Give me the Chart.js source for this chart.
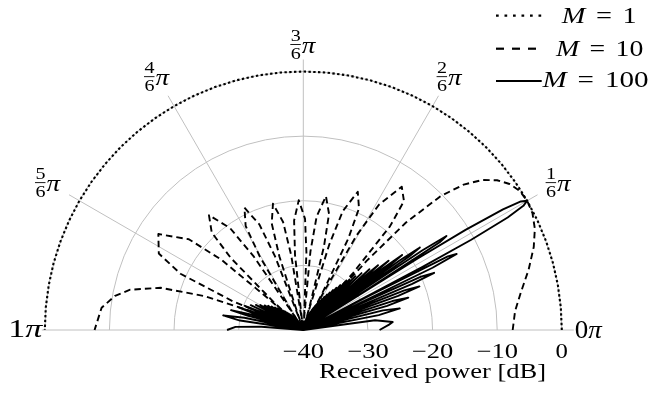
<!DOCTYPE html>
<html lang="en">
<head>
    <meta charset="UTF-8">
    <title>Received power vs. angle</title>
    <script src="https://cdn.jsdelivr.net/npm/chart.js"></script>
    <style>
        html, body { margin: 0; padding: 0; background: #ffffff; }
        #wrap { width: 654px; height: 393px; }
    </style>
</head>
<body>
<div id="wrap"><canvas id="chart" width="654" height="393"></canvas></div>
<script>
// angles in degrees (0 = right, 180 = left), power in dB
const thetaM1 = [0, 5, 10, 15, 20, 25, 30, 35, 40, 45, 50, 55, 60, 65, 70, 75, 80, 85, 90,
                 95, 100, 105, 110, 115, 120, 125, 130, 135, 140, 145, 150, 155, 160, 165, 170, 175, 180];
const powerM1 = [0, 0, 0, 0, 0, 0, 0, 0, 0, 0, 0, 0, 0, 0, 0, 0, 0, 0, 0,
                 0, 0, 0, 0, 0, 0, 0, 0, 0, 0, 0, 0, 0, 0, 0, 0, 0, 0];

const thetaM10 = [0, 5.1, 9.6, 15.0, 19.8, 23.6, 27.0, 30.0,
                  32.8, 35.3, 37.7, 40.0, 42.2, 44.3, 46.3, 47.5, 48.2,
                  48.9, 50.1, 52.0, 55.5, 58.9, 60.6, 61.7, 62.2,
                  62.7, 63.8, 65.4, 68.5, 71.6, 73.1, 74.1, 74.6,
                  75.0, 76.1, 77.5, 80.4, 83.3, 84.8, 85.8, 86.2,
                  86.7, 87.7, 89.1, 92.0, 94.8, 96.3, 97.2, 97.7,
                  98.2, 99.2, 100.6, 103.5, 106.5, 108.0, 109.0, 109.5,
                  110.0, 111.0, 112.6, 115.7, 119.0, 120.6, 121.7, 122.3,
                  122.8, 124.0, 125.7, 129.4, 133.2, 135.2, 136.6, 137.2,
                  137.9, 139.4, 141.6, 146.5, 152.1, 155.4, 157.8, 159.1,
                  159.7, 161.1, 163.5, 166.9, 169.7, 173.7, 180];
const powerM10 = [-7.6, -7.1, -5.9, -3.9, -2.1, -0.9, -0.2, 0,
                  -0.2, -0.9, -2.1, -3.9, -6.5, -10.4, -17.0, -25.5, -40,
                  -28.2, -19.1, -14.7, -13.1, -17.4, -23.2, -33.3, -40,
                  -33.6, -24.2, -19.3, -17.0, -20.6, -26.2, -36.1, -40,
                  -36.3, -26.7, -21.6, -19.0, -22.3, -27.8, -37.6, -40,
                  -37.6, -28.0, -22.8, -19.9, -23.0, -28.3, -38.0, -40,
                  -38.0, -28.3, -23.0, -19.9, -22.8, -28.0, -37.6, -40,
                  -37.6, -27.8, -22.3, -19.0, -21.6, -26.7, -36.3, -40,
                  -36.1, -26.2, -20.6, -17.0, -19.3, -24.2, -33.6, -40,
                  -33.3, -23.2, -17.4, -13.1, -14.7, -19.1, -28.2, -40,
                  -33.7, -23.8, -17.0, -12.5, -10.4, -8.6, -7.7];

const thetaM100 = [0, 3.6, 5.1, 7.7, 9.6, 11.2, 12.6, 13.8, 15.0, 16.1, 17.1, 18.0, 18.9,
                   19.8, 20.6, 21.4, 22.2, 22.31, 22.93, 23.6, 24.35, 24.94, 25.0, 25.16, 25.71, 26.4, 27.01, 27.53, 27.63,
                   27.88, 28.24, 28.84, 29.43, 30.0, 30.57, 31.13, 31.68, 32.0, 32.21,
                   32.3, 32.77, 33.3, 33.79, 34.22, 34.3, 34.4, 34.81, 35.3, 35.81, 36.21, 36.3, 36.8, 37.2, 37.7, 38.2,
                   38.7, 39.1, 39.6, 40.0, 40.5, 40.9, 41.3, 41.7,
                   42.6, 43.4, 44.3, 45.1, 45.9, 46.7, 47.5, 48.2, 49.0, 49.8, 50.5, 51.2,
                   52.0, 52.7, 53.4, 54.1, 54.8, 55.5, 56.2, 56.9, 57.6, 58.3, 58.9, 59.6,
                   60.3, 60.9, 61.6, 62.2, 62.9, 63.5, 64.2, 64.8, 65.4, 66.0, 66.7, 67.3,
                   67.9, 68.5, 69.1, 69.8, 70.4, 71.0, 71.6, 72.2, 72.8, 73.4, 74.0, 74.6,
                   75.2, 75.8, 76.3, 76.9, 77.5, 78.1, 78.7, 79.3, 79.9, 80.4, 81.0, 81.6,
                   114.5, 115.1, 115.7, 116.4, 117.0, 117.6, 118.3, 118.9, 119.6, 120.3, 120.9, 121.6,
                   122.3, 123.0, 123.6, 124.3, 125.0, 125.7, 126.4, 127.2, 127.9, 128.6, 129.3, 130.1,
                   130.8, 131.6, 132.4, 133.2, 133.9, 134.7, 135.6, 136.4, 137.2, 138.1, 138.9, 139.8,
                   140.7, 141.6, 142.6, 143.5, 144.5, 145.5, 146.5, 147.6, 148.6, 149.8, 150.9, 152.1,
                   153.4, 154.7, 156.1, 156.8, 157.5, 158.3, 159.1, 159.9, 160.7, 161.6, 162.6,
                   163.5, 164.6, 165.7, 166.9, 168.2, 169.7, 171.5, 173.7, 175.6, 177.4, 180];
const powerM100 = [-28.2, -26.7, -26.1, -28.8, -40, -28.1, -24.7, -27.3, -40, -26.5, -23.0, -25.5, -40,
                   -24.4, -20.8, -23.2, -40, -37.4, -21.7, -17.9, -20.0, -34.2, -40, -33.8, -17.8, -13.5, -14.9, -28.3, -40,
                   -19.2, -10.5, -3.9, -0.9, 0, -0.9, -3.9, -10.5, -19.2, -40,
                   -28.3, -14.9, -13.5, -17.8, -33.8, -40, -34.2, -20.0, -17.9, -21.7, -37.4, -40, -23.2, -20.8, -24.4, -40,
                   -25.5, -23.0, -26.5, -40, -27.3, -24.7, -28.1, -40,
                   -26.1, -40, -27.4, -40, -28.4, -40, -29.4, -40, -30.2, -40, -31.0, -40,
                   -31.7, -40, -32.3, -40, -32.9, -40, -33.4, -40, -33.9, -40, -34.4, -40,
                   -34.8, -40, -35.2, -40, -35.6, -40, -35.9, -40, -36.3, -40, -36.6, -40,
                   -36.9, -40, -37.1, -40, -37.4, -40, -37.6, -40, -37.9, -40, -38.1, -40,
                   -38.3, -40, -38.4, -40, -38.6, -40, -38.8, -40, -38.9, -40, -39.1, -40,
                   -40, -39.1, -40, -38.9, -40, -38.8, -40, -38.6, -40, -38.4, -40, -38.3,
                   -40, -38.1, -40, -37.9, -40, -37.6, -40, -37.4, -40, -37.1, -40, -36.9,
                   -40, -36.6, -40, -36.3, -40, -35.9, -40, -35.6, -40, -35.2, -40, -34.8,
                   -40, -34.4, -40, -33.9, -40, -33.4, -40, -32.9, -40, -32.3, -40, -31.7,
                   -40, -31.0, -40, -33.4, -30.2, -33.0, -40, -32.6, -29.4, -32.1, -40,
                   -31.7, -28.4, -31.2, -40, -30.7, -27.4, -30.1, -40, -33.5, -29.5, -28.2];

// axis annotations
const ringDb = [-30, -20, -10, 0];
const spokeNum = [1, 2, 3, 4, 5];          // k/6 * pi
const tickDb = [-40, -30, -20, -10, 0];
const tickLabels = ['\u221240', '\u221230', '\u221220', '\u221210', '0'];
const legendNames = ['1', '10', '100'];

// page geometry (pixels)
const W = 654, H = 393;
const CX = 303.3, CY = 330, RAD = 258.5;
const FLOOR = -40;
const unit = RAD / -FLOOR;
const GRID = '#c0c0c0';
const SERIF = '"Liberation Serif", "Times New Roman", serif';

function toPoints(theta, power) {
    return theta.map((t, i) => {
        const r = Math.max(power[i], FLOOR) - FLOOR;
        const a = t * Math.PI / 180;
        return { x: r * Math.cos(a), y: r * Math.sin(a) };
    });
}

// draws a run of text pieces (or numeric gaps), stretched horizontally
function drawRun(ctx, parts, x, y, align, width) {
    let natural = 0;
    for (const p of parts) {
        if (typeof p === 'number') { natural += p; continue; }
        ctx.font = p[1];
        natural += ctx.measureText(p[0]).width;
    }
    const sx = width ? width / natural : 1.18;
    const total = natural * sx;
    const x0 = align === 'center' ? x - total / 2 : align === 'right' ? x - total : x;
    ctx.save();
    ctx.translate(x0, y);
    ctx.scale(sx, 1);
    ctx.textAlign = 'left';
    ctx.textBaseline = 'alphabetic';
    ctx.fillStyle = '#000';
    let cur = 0;
    for (const p of parts) {
        if (typeof p === 'number') { cur += p; continue; }
        ctx.font = p[1];
        ctx.fillText(p[0], cur, 0);
        cur += ctx.measureText(p[0]).width;
    }
    ctx.restore();
}

const polarGrid = {
    id: 'polarGrid',
    beforeDatasetsDraw(chart) {
        const { ctx, scales: { x, y } } = chart;
        const cx = x.getPixelForValue(0), cy = y.getPixelForValue(0);
        const R = x.getPixelForValue(-FLOOR) - cx;
        ctx.save();
        ctx.strokeStyle = GRID;
        ctx.lineWidth = 1;
        ringDb.forEach(db => {
            const r = (db - FLOOR) / -FLOOR * R;
            ctx.beginPath();
            ctx.arc(cx, cy, r, Math.PI, 2 * Math.PI);
            ctx.stroke();
        });
        spokeNum.forEach(k => {
            const a = k * Math.PI / 6;
            ctx.beginPath();
            ctx.moveTo(cx, cy);
            ctx.lineTo(cx + (R + 12) * Math.cos(a), cy - (R + 12) * Math.sin(a));
            ctx.stroke();
        });
        ctx.beginPath();
        ctx.moveTo(cx - R - 3, cy);
        ctx.lineTo(cx + R + 12, cy);
        ctx.stroke();
        ctx.restore();
    },
    afterDraw(chart) {
        const { ctx, scales: { x, y } } = chart;
        const cx = x.getPixelForValue(0), cy = y.getPixelForValue(0);
        const R = x.getPixelForValue(-FLOOR) - cx;

        // radial axis ticks and title
        tickDb.forEach((db, i) => {
            const px = x.getPixelForValue(db - FLOOR);
            drawRun(ctx, [[tickLabels[i], '21px ' + SERIF]], px, 358.3, 'center',
                    db < 0 ? 41.5 : null);
        });
        drawRun(ctx, [['Received power [dB]', '21.5px ' + SERIF]],
                x.getPixelForValue(-FLOOR / 2), 378.3, 'center', 227);

        // angle labels k/6 pi
        spokeNum.forEach(k => {
            const a = k * Math.PI / 6;
            const dx = Math.cos(a), dy = -Math.sin(a);
            const t = R + 12 + 15 + 10 * Math.sqrt(Math.abs(dx));
            const bx = cx + t * dx, by = cy + t * dy;
            const small = '17px ' + SERIF;
            drawRun(ctx, [[String(k), small]], bx - 7.6, by - 3.3, 'center', null);
            drawRun(ctx, [['6', small]], bx - 7.6, by + 14.3, 'center', null);
            ctx.save();
            ctx.strokeStyle = '#000';
            ctx.lineWidth = 0.9;
            ctx.beginPath();
            ctx.moveTo(bx - 13, by);
            ctx.lineTo(bx - 2.5, by);
            ctx.stroke();
            ctx.restore();
            drawRun(ctx, [['\u03c0', 'italic 23px ' + SERIF]], bx - 1.5, by + 8.4, 'left', null);
        });
        drawRun(ctx, [['1', '25px ' + SERIF], ['\u03c0', 'italic 25px ' + SERIF]],
                cx - R - 2.6, cy + 7.3, 'right', 34);
        drawRun(ctx, [['0', '25px ' + SERIF], ['\u03c0', 'italic 25px ' + SERIF]],
                cx + R + 13, cy + 8, 'left', 27);

        // legend
        const rows = [
            { y: 15.7, base: 23.3, dash: [2.7, 5.8], mid: 599.2, w: 75 },
            { y: 48.7, base: 56.0, dash: [8, 8], mid: 599.7, w: 87.3 },
            { y: 81.0, base: 87.3, dash: [], mid: 595.5, w: 106 }
        ];
        rows.forEach((row, i) => {
            ctx.save();
            ctx.strokeStyle = '#000';
            ctx.lineWidth = 2.2;
            ctx.setLineDash(row.dash);
            ctx.beginPath();
            ctx.moveTo(496, row.y);
            ctx.lineTo(541.7, row.y);
            ctx.stroke();
            ctx.restore();
            const rm = '24px ' + SERIF;
            drawRun(ctx, [['M', 'italic ' + rm], 9, ['=', rm], 9, [legendNames[i], rm]],
                    row.mid, row.base, 'center', row.w);
        });
    }
};

const lineStyle = {
    showLine: true,
    pointRadius: 0,
    fill: false,
    borderColor: '#000',
    borderJoinStyle: 'round',
    tension: 0
};

new Chart(document.getElementById('chart'), {
    type: 'scatter',
    data: {
        datasets: [
            Object.assign({ label: 'M = 100', data: toPoints(thetaM100, powerM100), borderWidth: 1.9 }, lineStyle),
            Object.assign({ label: 'M = 10', data: toPoints(thetaM10, powerM10), borderWidth: 1.9, borderDash: [6.5, 4] }, lineStyle),
            Object.assign({ label: 'M = 1', data: toPoints(thetaM1, powerM1), borderWidth: 2.1, borderDash: [2.4, 2.4] }, lineStyle)
        ]
    },
    options: {
        responsive: false,
        animation: false,
        devicePixelRatio: 1,
        layout: { padding: 0 },
        plugins: { legend: { display: false }, tooltip: { enabled: false } },
        scales: {
            x: { type: 'linear', display: false, min: -CX / unit, max: (W - CX) / unit },
            y: { type: 'linear', display: false, min: -(H - CY) / unit, max: CY / unit }
        }
    },
    plugins: [polarGrid]
});
</script>
</body>
</html>
